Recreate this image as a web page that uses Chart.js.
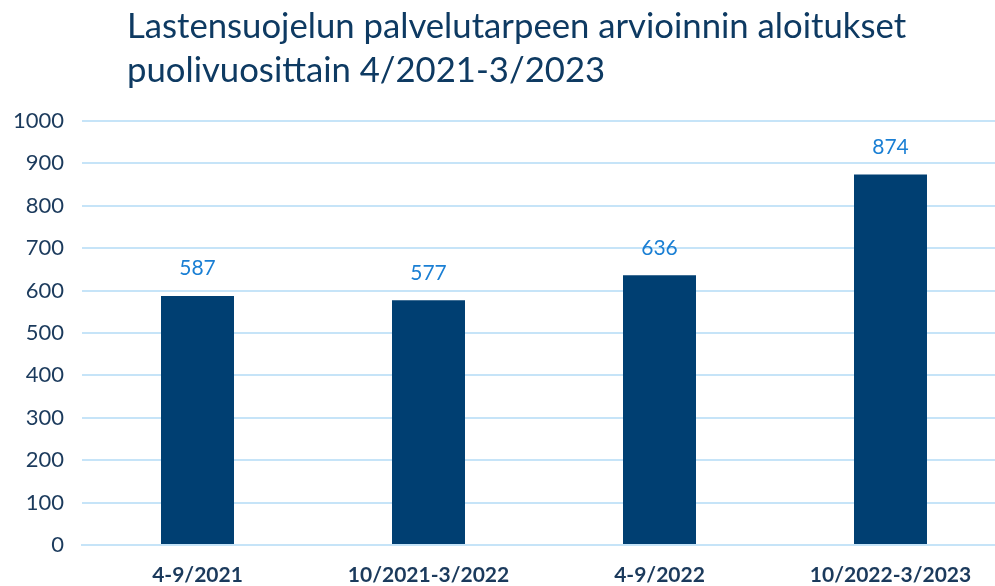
<!DOCTYPE html>
<html>
<head>
<meta charset="utf-8">
<script src="https://cdn.jsdelivr.net/npm/chart.js@4"></script>
<style>
  html, body { margin: 0; padding: 0; background: #fff; overflow: hidden; }
  #wrap { position: relative; width: 995px; height: 586px; overflow: hidden; }
  #title {
    position: absolute; left: 127px; top: 3px;
    font-family: Lato, "Open Sans", sans-serif; font-size: 34.7px; line-height: 44px;
    color: #0e3a62; white-space: nowrap;
  }
  #chartBox { position: absolute; left: 0; top: 0; width: 1006px; height: 586px; }
</style>
</head>
<body>
<div id="wrap">
  <div id="chartBox"><canvas id="myChart"></canvas></div>
  <div id="title">Lastensuojelun palvelutarpeen arvioinnin aloitukset<br>puolivuosittain 4/2021-3/2023</div>
</div>
<script>
const categories = ["4-9/2021", "10/2021-3/2022", "4-9/2022", "10/2022-3/2023"]
const values = [587, 577, 636, 874]
const yTicks = [0, 100, 200, 300, 400, 500, 600, 700, 800, 900, 1000]

// draws the value above each bar
const valueLabels = {
  id: "valueLabels",
  afterDatasetsDraw(chart) {
    const c = chart.ctx
    const meta = chart.getDatasetMeta(0)
    c.save()
    c.font = "21px Lato, 'Open Sans', sans-serif"
    c.fillStyle = "#1a7fd4"
    c.textAlign = "center"
    c.textBaseline = "bottom"
    meta.data.forEach((bar, i) => {
      c.fillText(values[i], bar.x, bar.y - 17)
    })
    c.restore()
  }
}

const ctx = document.getElementById('myChart');
const myChart = new Chart(ctx, {
  type: "bar",
  data: {
    labels: categories,
    datasets: [{
      data: values,
      backgroundColor: "#003f72",
      categoryPercentage: 1,
      barPercentage: 0.316
    }]
  },
  options: {
    responsive: true,
    maintainAspectRatio: false,
    animation: false,
    layout: { padding: { top: 121, right: 0, left: 0, bottom: 0 } },
    plugins: {
      legend: { display: false },
      tooltip: { enabled: false }
    },
    scales: {
      y: {
        min: 0,
        max: 1000,
        afterBuildTicks: (axis) => { axis.ticks = yTicks.map(v => ({ value: v })) },
        afterFit: (axis) => { axis.width = 82 },
        border: { display: false },
        grid: { color: "#c6e4f8", lineWidth: 2, drawTicks: false },
        ticks: {
          padding: 18,
          color: "#1b3a5c",
          callback: (v) => String(v),
          font: { family: "Lato, 'Open Sans', sans-serif", size: 22 }
        }
      },
      x: {
        afterFit: (axis) => { axis.height = 41 },
        border: { color: "#c6e4f8", width: 2 },
        grid: { display: false, drawTicks: false },
        ticks: {
          padding: 18,
          color: "#1b3a5c",
          maxRotation: 0,
          font: { family: "Lato, 'Open Sans', sans-serif", size: 21, weight: "bold" }
        }
      }
    }
  },
  plugins: [valueLabels]
});
</script>
</body>
</html>
